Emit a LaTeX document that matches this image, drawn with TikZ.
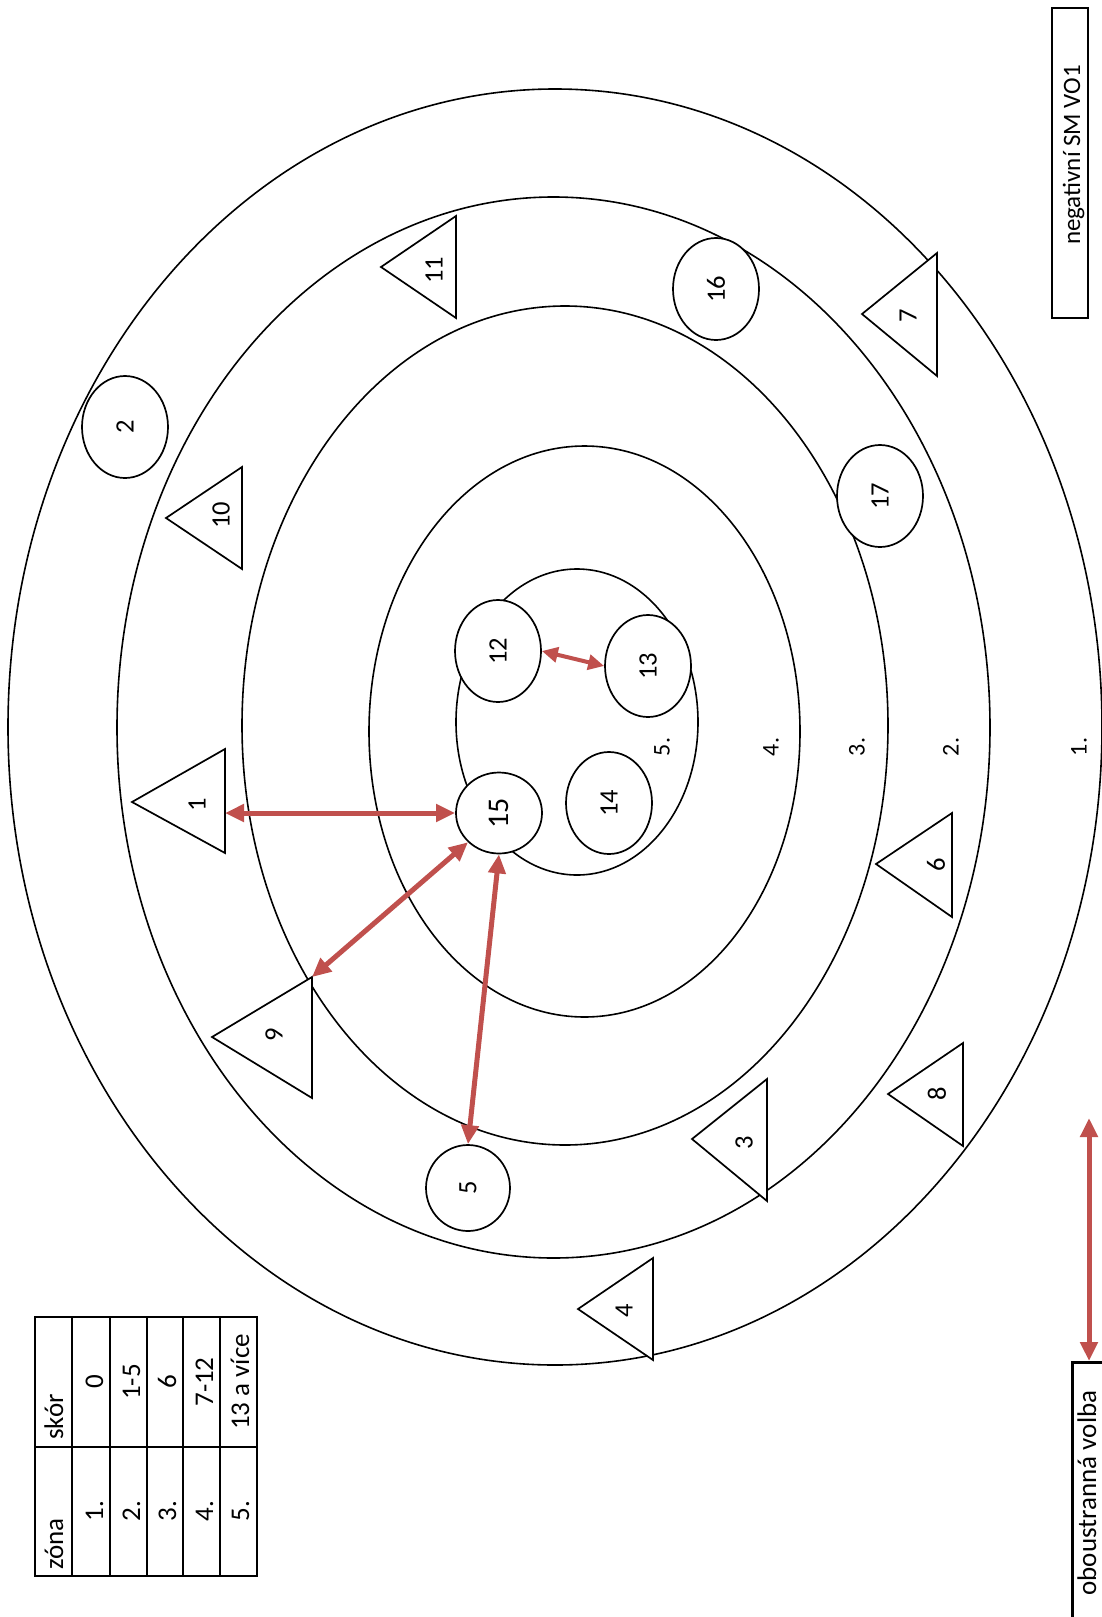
\documentclass[tikz,border=0pt]{standalone}
\usepackage{fontspec}
\setmainfont{Carlito}
\usetikzlibrary{arrows.meta,shapes.geometric}
\definecolor{arrowred}{RGB}{192,80,77}
\begin{document}
\begin{tikzpicture}[x=1pt,y=-1pt,
  ring/.style={draw=black, line width=1.6pt},
  member/.style={ellipse, draw=black, fill=white, line width=1.7pt, minimum width=86pt, minimum height=102pt, inner sep=0pt, font=\fontsize{26.5}{30}\selectfont},
  tri/.style={draw=black, fill=white, line width=1.7pt, line join=miter},
  lbl/.style={inner sep=0pt, rotate=90, font=\fontsize{26.5}{30}\selectfont},
  zonelbl/.style={inner sep=0pt, rotate=90, font=\fontsize{24}{28}\selectfont},
  tbl/.style={draw=black, line width=2.6pt},
  tbltxt/.style={inner sep=0pt, rotate=90, anchor=base, font=\fontsize{27}{30}\selectfont},
  legbox/.style={draw=black, line width=2.6pt, inner sep=0pt},
  link/.style={draw=arrowred, line width=5pt, {Triangle[length=19pt,width=17pt]}-{Triangle[length=19pt,width=17pt]}},
  linksmall/.style={draw=arrowred, line width=4pt, {Triangle[length=16pt,width=15pt]}-{Triangle[length=16pt,width=15pt]}},
]
\useasboundingbox (0,0) rectangle (1101,1617);
\fill[white] (0,0) rectangle (1101,1617);

% zone rings
\draw[ring] (555,727) ellipse [x radius=547, y radius=638];
\draw[ring] (553.5,727.5) ellipse [x radius=436.5, y radius=530.5];
\draw[ring] (565,725.5) ellipse [x radius=323, y radius=419.5];
\draw[ring] (584.5,731.5) ellipse [x radius=215.5, y radius=285.5];
\draw[ring] (577,722) ellipse [x radius=121, y radius=153];

% zone labels
\node[zonelbl] (z5) at (662,747) {5.};
\node[zonelbl] (z4) at (771,747) {4.};
\node[zonelbl] (z3) at (857,747) {3.};
\node[zonelbl] (z2) at (951,747) {2.};
\node[zonelbl] (z1) at (1079,747) {1.};

% triangles
\filldraw[tri] (132,802) -- (225,749) -- (225,853) -- cycle;
\node[lbl] (l1) at (197,805) {1};
\filldraw[tri] (166,518) -- (242,467) -- (242,569) -- cycle;
\node[lbl] (l10) at (221,515) {10};
\filldraw[tri] (381,267) -- (456,216) -- (456,318) -- cycle;
\node[lbl] (l11) at (434,270) {11};
\filldraw[tri] (862,314) -- (937,253) -- (937,376) -- cycle;
\node[lbl] (l7) at (908,316) {7};
\filldraw[tri] (212,1037) -- (312,977) -- (312,1098) -- cycle;
\node[lbl] (l9) at (274,1035) {9};
\filldraw[tri] (692,1139) -- (767,1079) -- (767,1201) -- cycle;
\node[lbl] (l3) at (744,1143) {3};
\filldraw[tri] (888,1094) -- (963,1043) -- (963,1146) -- cycle;
\node[lbl] (l8) at (937,1094) {8};
\filldraw[tri] (578,1309) -- (653,1258) -- (653,1360) -- cycle;
\node[lbl] (l4) at (624,1311) {4};
\filldraw[tri] (876,864) -- (952,813) -- (952,917) -- cycle;
\node[lbl] (l6) at (936,865) {6};

% circles
\node[member] (c2) at (125,427) {\rotatebox{90}{2}};
\node[member] (c16) at (716,289) {\rotatebox{90}{16}};
\node[member] (c17) at (880,496) {\rotatebox{90}{17}};
\node[member] (c12) at (498,651) {\rotatebox{90}{12}};
\node[member] (c13) at (648,666) {\rotatebox{90}{13}};
\node[member] (c14) at (609,803) {\rotatebox{90}{14}};
\node[member, minimum width=86pt, minimum height=81pt, font=\fontsize{30}{34}\selectfont] (c15) at (499,813) {\rotatebox{90}{15}};
\node[member, minimum width=84pt, minimum height=86pt] (c5) at (468,1188) {\rotatebox{90}{5}};

% connectors
\coordinate (t1b) at (225,813);
\coordinate (t9c) at (312,977);
\draw[link] (t1b) -- (c15.west);
\draw[link] (c15.south west) -- (t9c);
\draw[link] (c15.south) -- (c5.north);
\draw[linksmall] (c12.east) -- (c13.west);

% table
\draw[tbl] (35,1317) rectangle (257,1576);
\foreach \xx in {72,110,147,183,220} {\draw[tbl] (\xx,1317) -- (\xx,1576);}
\draw[tbl] (35,1447) -- (257,1447);
\node[tbltxt, anchor=base west] (hz) at (63,1570) {zóna};
\node[tbltxt, anchor=base west] (hs) at (63,1440) {skór};
\node[tbltxt] (r1a) at (103,1511) {1.};
\node[tbltxt] (r1b) at (103,1382) {0};
\node[tbltxt] (r2a) at (140,1511) {2.};
\node[tbltxt] (r2b) at (140,1382) {1-5};
\node[tbltxt] (r3a) at (176,1511) {3.};
\node[tbltxt] (r3b) at (176,1382) {6};
\node[tbltxt] (r4a) at (213,1511) {4.};
\node[tbltxt] (r4b) at (213,1382) {7-12};
\node[tbltxt] (r5a) at (249,1511) {5.};
\node[tbltxt] (r5b) at (249,1382) {13 a více};

% legend
\node[legbox, minimum width=36pt, minimum height=310pt] (nbox) at (1070,163) {};
\node[tbltxt, font=\fontsize{25}{28}\selectfont] (ntxt) at (1080,155) {negativní SM VO1};
\node[legbox, minimum width=60pt, minimum height=300pt, anchor=north west] (obox) at (1071,1361) {};
\node[tbltxt] (otxt) at (1096,1493) {oboustranná volba};
\coordinate (legup) at (1089,1118);
\draw[link] (legup) -- (legup |- obox.north);
\end{tikzpicture}
\end{document}
